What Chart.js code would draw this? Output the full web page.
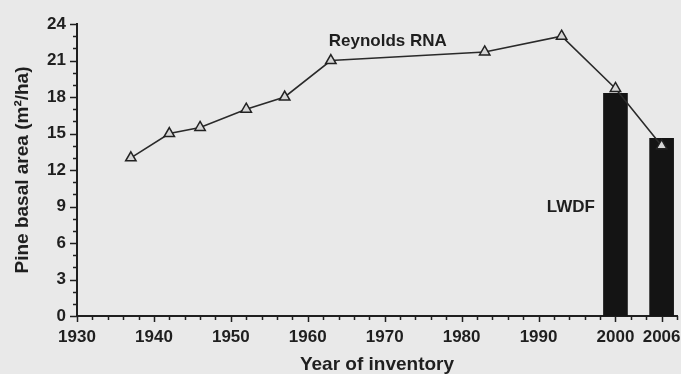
<!DOCTYPE html>
<html>
<head>
<meta charset="utf-8">
<script src="https://cdn.jsdelivr.net/npm/chart.js@4.4.1/dist/chart.umd.min.js"></script>
<style>
  html, body { margin: 0; padding: 0; background: #e9e9e9; }
  #wrap { width: 681px; height: 374px; }
</style>
</head>
<body>
<div id="wrap"><canvas id="chart"></canvas></div>
<script>
// === data ===
var rnaYears = [1937, 1942, 1946, 1952, 1957, 1963, 1983, 1993, 2000, 2006];
var rnaArea = [13, 15, 15.5, 17, 18, 21, 21.7, 23, 18.7, 14];
var lwdfYears = [2000, 2006];
var lwdfArea = [18.3, 14.6];
var xLabels = [1930, 1940, 1950, 1960, 1970, 1980, 1990, 2000, 2006];
var yLabels = [0, 3, 6, 9, 12, 15, 18, 21, 24];

// series names, written in the plot
var rnaName = 'Reynolds RNA';
var lwdfName = 'LWDF';
var rnaNameAt = [1970.4, 22.55];
var lwdfNameAt = [1994.2, 8.95];

var ink = '#1f1f1f';
var family = 'Liberation Sans, Arial, sans-serif';
var tickFont = { family: family, size: 17, weight: 'bold' };
var titleFont = { family: family, size: 19, weight: 'bold', lineHeight: 1 };

function toPoints(xs, ys) {
  return xs.map(function (x, i) { return { x: x, y: ys[i] }; });
}

// tick marks: long at labelled values, short otherwise
var tickMarks = {
  id: 'tickMarks',
  afterDraw: function (chart) {
    var ctx = chart.ctx, a = chart.chartArea;
    var xs = chart.scales.x, ys = chart.scales.y;
    ctx.save();
    ctx.strokeStyle = ink;
    ctx.lineWidth = 1.5;
    xs.ticks.forEach(function (t) {
      var px = Math.round(xs.getPixelForValue(t.value)) + 0.5;
      var len = xLabels.indexOf(t.value) >= 0 ? 6 : 4;
      ctx.beginPath(); ctx.moveTo(px, a.bottom); ctx.lineTo(px, a.bottom + len); ctx.stroke();
    });
    ys.ticks.forEach(function (t) {
      var py = Math.round(ys.getPixelForValue(t.value)) + 0.5;
      var len = yLabels.indexOf(t.value) >= 0 ? 7 : 4;
      ctx.beginPath(); ctx.moveTo(a.left, py); ctx.lineTo(a.left - len, py); ctx.stroke();
    });
    ctx.restore();
  }
};

// text labels inside the plot
var seriesNames = {
  id: 'seriesNames',
  afterDatasetsDraw: function (chart) {
    var ctx = chart.ctx, xs = chart.scales.x, ys = chart.scales.y;
    ctx.save();
    ctx.fillStyle = ink;
    ctx.font = 'bold 17px "Liberation Sans", Arial, sans-serif';
    ctx.textAlign = 'center';
    ctx.textBaseline = 'middle';
    ctx.fillText(rnaName, xs.getPixelForValue(rnaNameAt[0]), ys.getPixelForValue(rnaNameAt[1]));
    ctx.fillText(lwdfName, xs.getPixelForValue(lwdfNameAt[0]), ys.getPixelForValue(lwdfNameAt[1]));
    ctx.restore();
  }
};

new Chart(document.getElementById('chart'), {
  type: 'bar',
  data: {
    datasets: [{
      type: 'line',
      label: rnaName,
      data: toPoints(rnaYears, rnaArea),
      borderColor: '#2a2a2a',
      borderWidth: 1.6,
      pointStyle: 'triangle',
      pointRadius: 6,
      pointBackgroundColor: '#d6d6d6',
      pointBorderColor: '#222',
      pointBorderWidth: 1.5,
      tension: 0,
      clip: false,
      order: 0
    }, {
      type: 'bar',
      label: lwdfName,
      data: toPoints(lwdfYears, lwdfArea),
      backgroundColor: '#141414',
      barThickness: 24,
      clip: false,
      order: 1
    }]
  },
  options: {
    responsive: true,
    maintainAspectRatio: false,
    animation: false,
    layout: { autoPadding: false, padding: { top: 24, right: 4, left: 0, bottom: 0 } },
    plugins: { legend: { display: false }, tooltip: { enabled: false } },
    scales: {
      x: {
        type: 'linear',
        offset: false,
        min: 1930,
        max: 2008,
        grid: { display: false, drawTicks: false, tickLength: 0, offset: false },
        border: { color: ink, width: 2 },
        afterBuildTicks: function (scale) {
          var t = [];
          for (var v = 1930; v <= 2008; v += 2) t.push({ value: v });
          scale.ticks = t;
        },
        afterFit: function (scale) {
          scale.height = 58;
          scale.paddingLeft = 0;
          scale.paddingRight = 0;
        },
        ticks: {
          autoSkip: false, maxRotation: 0, minRotation: 0,
          padding: 11, color: ink, font: tickFont,
          callback: function (v) { return xLabels.indexOf(v) >= 0 ? String(v) : ''; }
        },
        title: {
          display: true, text: 'Year of inventory', color: ink,
          font: titleFont, padding: { top: 0, bottom: 0 }
        }
      },
      y: {
        min: 0,
        max: 24,
        grid: { display: false, drawTicks: false, tickLength: 0 },
        border: { color: ink, width: 2 },
        afterBuildTicks: function (scale) {
          var t = [];
          for (var v = 0; v <= 24; v += 1) t.push({ value: v });
          scale.ticks = t;
        },
        afterFit: function (scale) { scale.width = 77; },
        ticks: {
          autoSkip: false, padding: 11, color: ink, font: tickFont,
          callback: function (v) { return yLabels.indexOf(v) >= 0 ? String(v) : ''; }
        },
        title: {
          display: true, text: 'Pine basal area (m\u00B2/ha)', color: ink,
          font: titleFont, padding: { top: 13, bottom: 0 }
        }
      }
    }
  },
  plugins: [tickMarks, seriesNames]
});
</script>
</body>
</html>
